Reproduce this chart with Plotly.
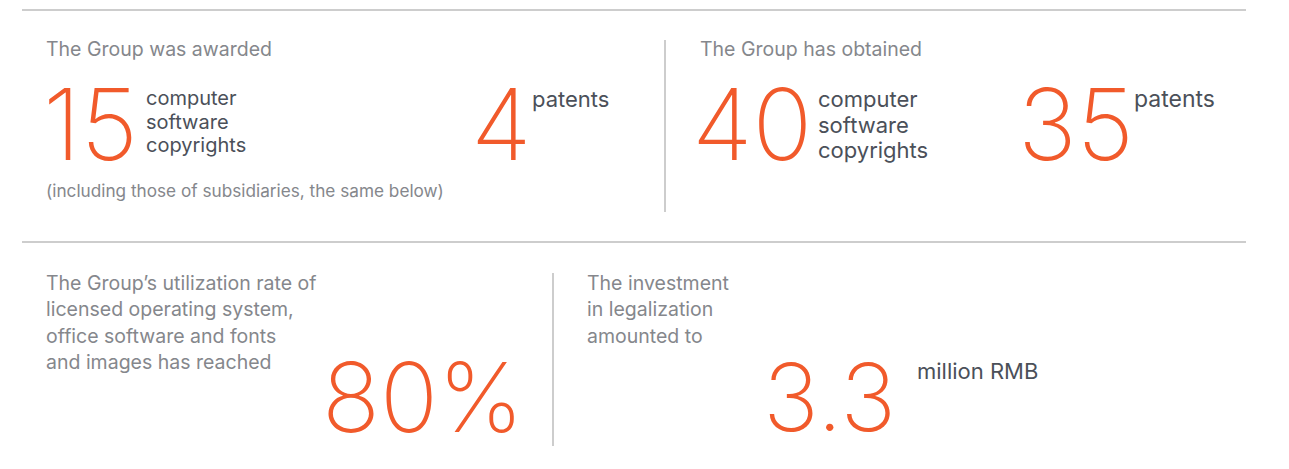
import plotly.graph_objects as go

# ---- data ----
top_headers = ["The Group was awarded", "The Group has obtained"]
top_values = ["15", "4", "40", "35"]
top_units = [["computer", "software", "copyrights"], ["patents"],
             ["computer", "software", "copyrights"], ["patents"]]
note_text = "(including those of subsidiaries, the same below)"
bottom_headers = [["The Group\u2019s utilization rate of", "licensed operating system,",
                   "office software and fonts", "and images has reached"],
                  ["The investment", "in legalization", "amounted to"]]
bottom_values = ["80%", "3.3"]
bottom_units = ["", "million RMB"]

ORANGE = "#F15A2B"
DARK = "#4B5059"
GRAY = "#85878C"
LINE = "#BDBDBD"
FAM = "Inter"

# page body has an 8px margin -> axis ranges map data coords to window pixels
OFF = 8
W, H = 1289, 469
fig = go.Figure()
fig.add_trace(go.Scatter(x=[OFF, W], y=[OFF, H], mode="markers", marker=dict(opacity=0),
                         hoverinfo="skip", showlegend=False))

ann = []
def txt(x, y, t, size, color, xa="left", ya="middle", weight=None):
    f = dict(family=FAM, size=size, color=color)
    if weight:
        f["weight"] = weight
    ann.append(dict(x=x, y=y, xref="x", yref="y", text=t, showarrow=False,
                    xanchor=xa, yanchor=ya, font=f, align="left"))

def lines(x, y0, dy, items, size, color):
    for i, t in enumerate(items):
        txt(x, y0 + i * dy, t, size, color)

# headers
txt(44, 49, top_headers[0], 19.5, GRAY)
txt(698, 49, top_headers[1], 19.5, GRAY)

# top numbers (xanchor center at visual centre)
num_cx = [90, 501, 752, 1076]
for i, v in enumerate(top_values):
    txt(num_cx[i], 124, v, 99, ORANGE, xa="center", weight=200)

# units
lines(144, 98, 23.5, top_units[0], 20, DARK)
lines(530, 99, 0, top_units[1], 22, DARK)
lines(816, 99, 25.5, top_units[2], 22, DARK)
lines(1132, 99, 0, top_units[3], 23, DARK)

txt(44, 190, note_text, 17.2, GRAY)

# bottom
lines(44, 283, 26.3, bottom_headers[0], 19.5, GRAY)
lines(585, 283, 26.3, bottom_headers[1], 19.5, GRAY)
txt(423, 397, bottom_values[0], 96, ORANGE, xa="center", weight=200)
txt(829, 397, bottom_values[1], 94, ORANGE, xa="center", weight=200)
txt(915, 371, bottom_units[1], 22, DARK)

shapes = [
    dict(type="line", xref="x", yref="y", x0=22, x1=1246, y0=10, y1=10, line=dict(color=LINE, width=1.5)),
    dict(type="line", xref="x", yref="y", x0=22, x1=1246, y0=242, y1=242, line=dict(color=LINE, width=1.5)),
    dict(type="line", xref="x", yref="y", x0=665, x1=665, y0=40, y1=212, line=dict(color=LINE, width=1.5)),
    dict(type="line", xref="x", yref="y", x0=553, x1=553, y0=273, y1=446, line=dict(color=LINE, width=1.5)),
]

fig.update_layout(
    width=W - OFF, height=H - OFF, margin=dict(l=0, r=0, t=0, b=0),
    paper_bgcolor="white", plot_bgcolor="white",
    xaxis=dict(range=[OFF, W], visible=False, fixedrange=True),
    yaxis=dict(range=[H, OFF], visible=False, fixedrange=True),
    annotations=ann, shapes=shapes, showlegend=False,
)
fig.write_html("out.html")
